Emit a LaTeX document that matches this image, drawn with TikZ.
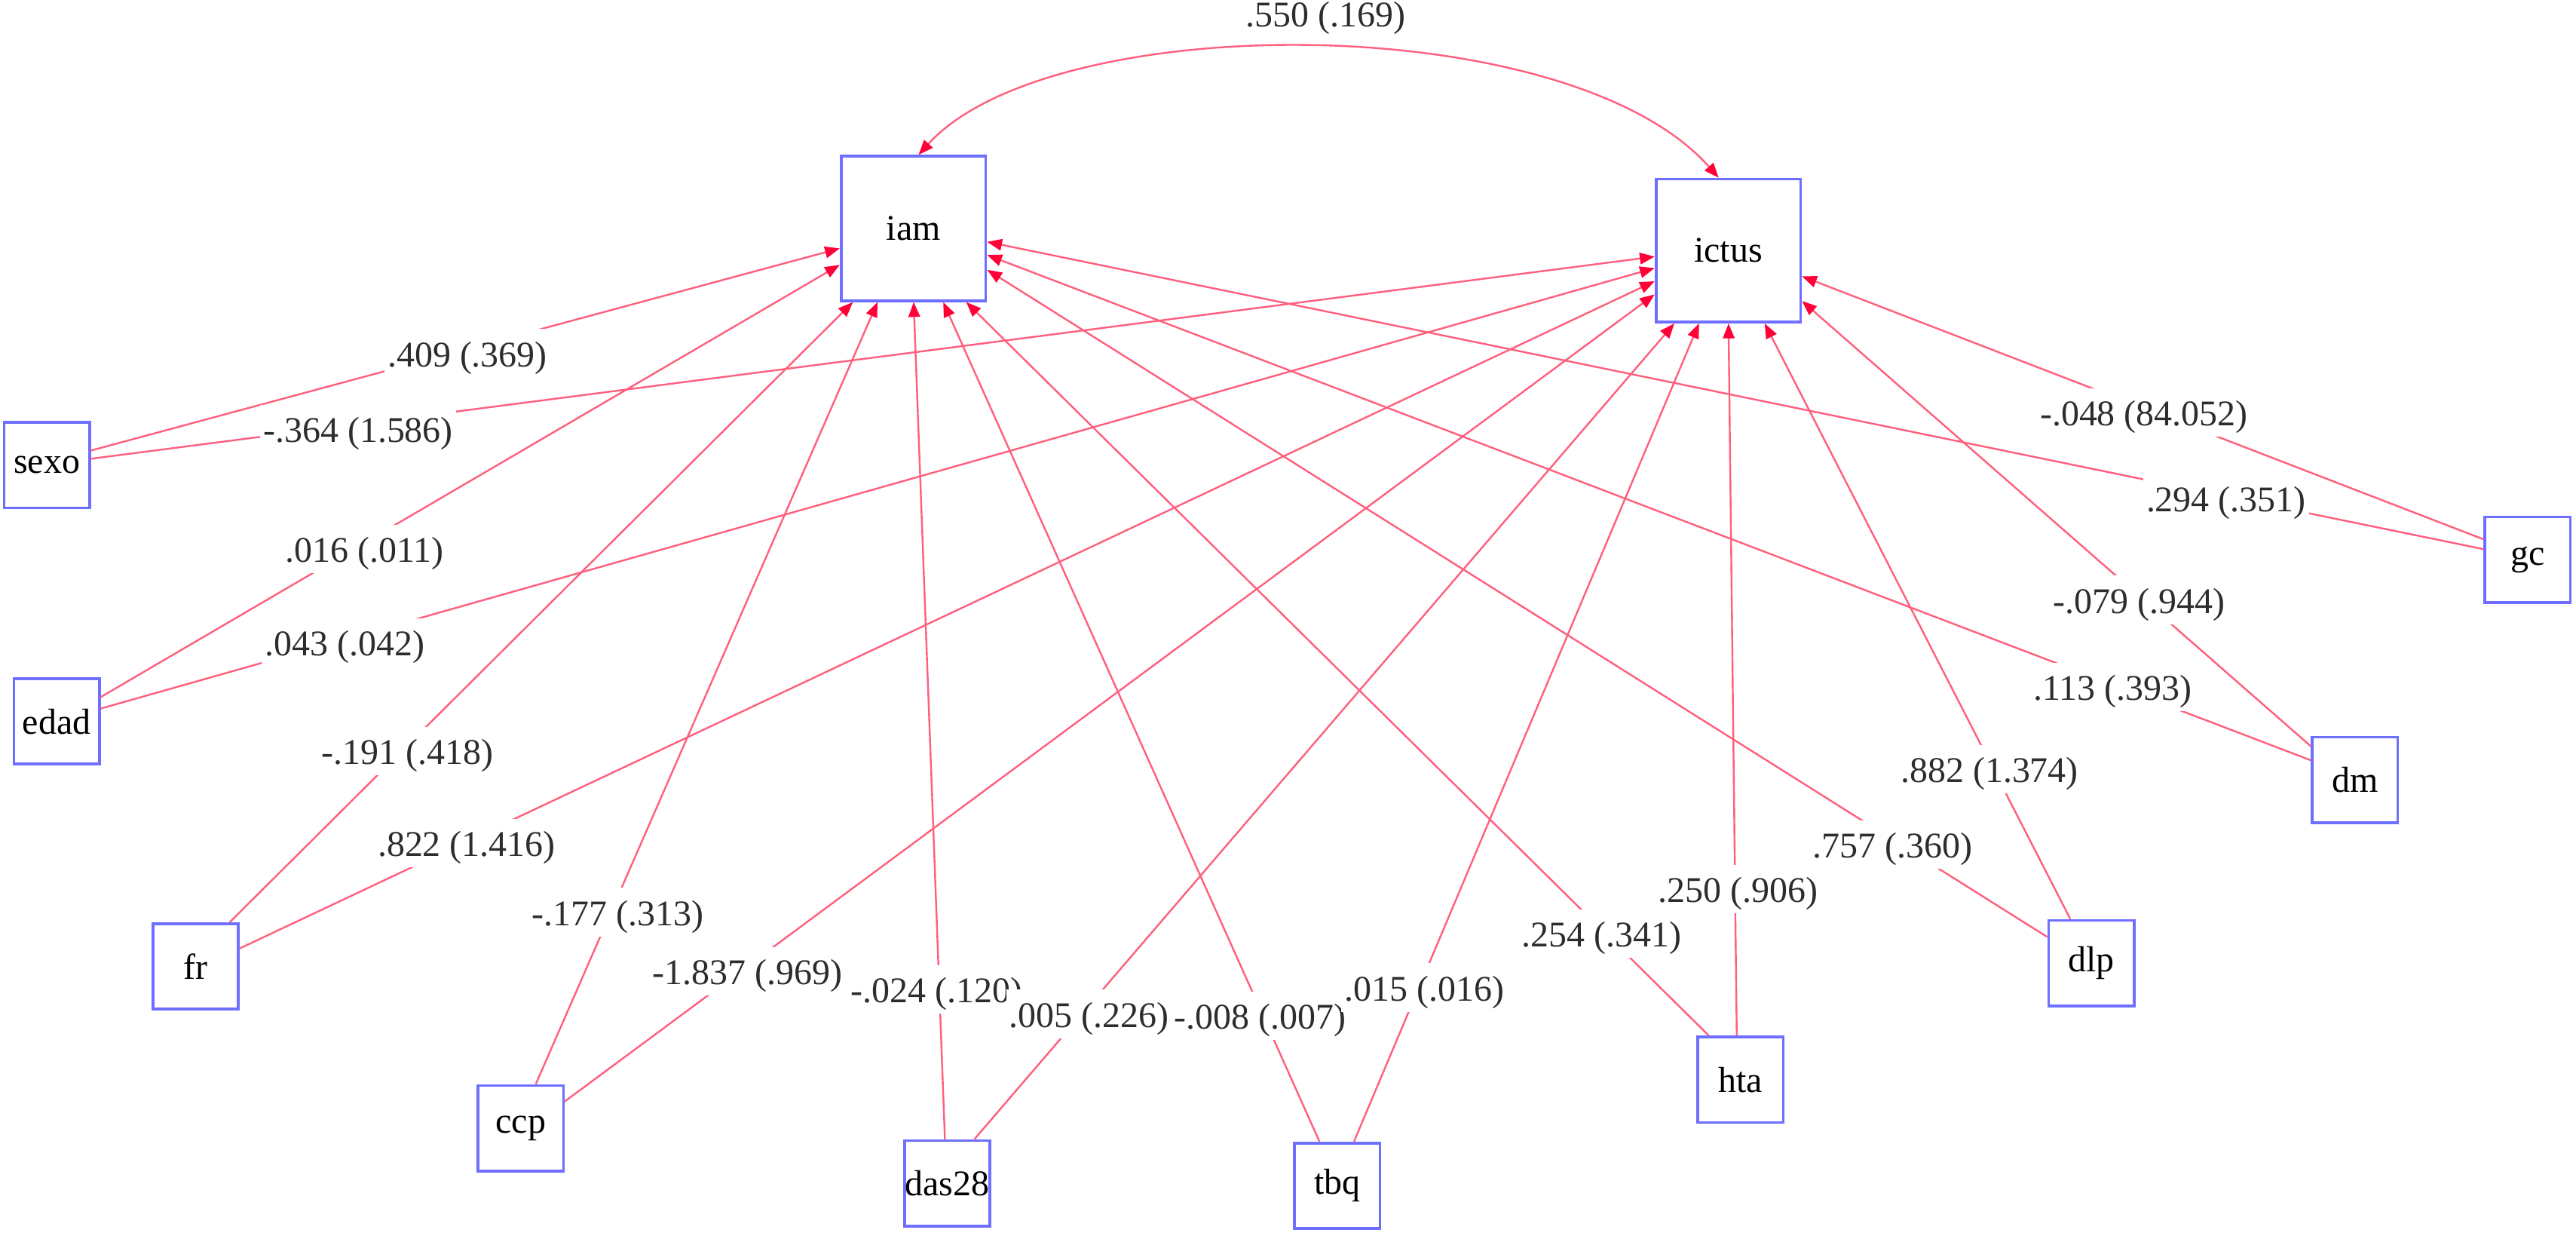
\documentclass[tikz,border=0pt]{standalone}
\usepackage{fontspec}
\setmainfont{Liberation Serif}
\usetikzlibrary{arrows.meta,calc}
\definecolor{linecol}{RGB}{255,95,125}
\definecolor{headcol}{RGB}{255,0,55}
\definecolor{boxcol}{RGB}{110,110,255}
\definecolor{txtcol}{RGB}{45,45,45}
\begin{document}
\begin{tikzpicture}[x=1pt,y=-1pt,
  box/.style={draw=boxcol, line width=1.7pt, fill=white, minimum width=52pt, minimum height=52pt, inner sep=0pt, font=\fontsize{22}{26}\selectfont, text=black},
  bigbox/.style={box, minimum width=88pt, minimum height=88pt},
  edge/.style={draw=linecol, line width=1.1pt, -{Triangle[length=9pt,width=7pt,color=headcol]}},
  lab/.style={fill=white, inner xsep=2pt, inner ysep=0pt, text height=23pt, text depth=6.6pt, yshift=3pt, font=\fontsize{22}{26}\selectfont, text=txtcol}]
\useasboundingbox (0,0) rectangle (1568,752);
% nodes
\node[bigbox] (iam) at (556,139) {iam};
\node[bigbox, minimum height=87pt] (ictus) at (1052,152.5) {ictus};
\node[box] (sexo) at (28.5,283) {sexo};
\node[box] (edad) at (34.5,439) {edad};
\node[box] (fr) at (119,588) {fr};
\node[box] (ccp) at (317,686.5) {ccp};
\node[box] (das28) at (576.5,720) {das28};
\node[box] (tbq) at (814,721.5) {tbq};
\node[box] (hta) at (1059.5,657) {hta};
\node[box] (dlp) at (1273,586) {dlp};
\node[box] (dm) at (1433.5,474.5) {dm};
\node[box] (gc) at (1538.5,340.5) {gc};
% covariance arc
\draw[draw=linecol, line width=1.1pt, {Triangle[length=9pt,width=7pt,color=headcol]}-{Triangle[length=9pt,width=7pt,color=headcol]}]
  ($(iam.north west)+(48,0)$) .. controls (640,5) and (955,5) .. ($(ictus.north west)+(39,0)$);
% edges to iam
\draw[edge] ($(sexo.north east)+(0,18)$) -- ($(iam.north west)+(0,57)$);
\draw[edge] ($(edad.north east)+(0,12)$) -- ($(iam.north west)+(0,67)$);
\draw[edge] ($(fr.north east)+(-6,0)$) -- ($(iam.south west)+(8,0)$);
\draw[edge] ($(ccp.north west)+(36,0)$) -- ($(iam.south west)+(23,0)$);
\draw[edge] ($(das28.north west)+(25.5,0)$) -- ($(iam.south west)+(45,0)$);
\draw[edge] ($(tbq.north west)+(16,0)$) -- ($(iam.south west)+(63,0)$);
\draw[edge] ($(hta.north west)+(7.5,0)$) -- ($(iam.south west)+(77,0)$);
\draw[edge] ($(dlp.north west)+(0,11)$) -- ($(iam.north east)+(0,70)$);
\draw[edge] ($(dm.north west)+(0,15)$) -- ($(iam.north east)+(0,61)$);
\draw[edge] ($(gc.north west)+(0,20.5)$) -- ($(iam.north east)+(0,53)$);
% edges to ictus
\draw[edge] ($(sexo.north east)+(0,23)$) -- ($(ictus.north west)+(0,48)$);
\draw[edge] ($(edad.north east)+(0,19)$) -- ($(ictus.north west)+(0,55)$);
\draw[edge] ($(fr.north east)+(0,16)$) -- ($(ictus.north west)+(0,63)$);
\draw[edge] ($(ccp.north east)+(0,10.5)$) -- ($(ictus.north west)+(0,71)$);
\draw[edge] ($(das28.north west)+(43.5,0)$) -- ($(ictus.south west)+(12,0)$);
\draw[edge] ($(tbq.north west)+(37,0)$) -- ($(ictus.south west)+(27,0)$);
\draw[edge] ($(hta.north west)+(24.5,0)$) -- ($(ictus.south west)+(45,0)$);
\draw[edge] ($(dlp.north west)+(14,0)$) -- ($(ictus.south west)+(67,0)$);
\draw[edge] ($(dm.north west)+(0,6.5)$) -- ($(ictus.north east)+(0,75)$);
\draw[edge] ($(gc.north west)+(0,14.5)$) -- ($(ictus.north east)+(0,60)$);
% labels
\node[lab] (l550) at (807,11) {.550 (.169)};
\node[lab] (l409) at (284.5,218) {.409 (.369)};
\node[lab] (l364) at (218,264) {-.364 (1.586)};
\node[lab] (l016) at (222,337) {.016 (.011)};
\node[lab] (l043) at (210,394) {.043 (.042)};
\node[lab] (l191) at (248,460) {-.191 (.418)};
\node[lab] (l822) at (284,516) {.822 (1.416)};
\node[lab] (l177) at (376,558) {-.177 (.313)};
\node[lab] (l1837) at (455,594) {-1.837 (.969)};
\node[lab] (l024) at (570,605) {-.024 (.120)};
\node[lab] (l005) at (663,620) {.005 (.226)};
\node[lab] (l008) at (767,621) {-.008 (.007)};
\node[lab] (l015) at (867,604) {.015 (.016)};
\node[lab] (l254) at (975,571) {.254 (.341)};
\node[lab] (l250) at (1058,544) {.250 (.906)};
\node[lab] (l757) at (1152,517) {.757 (.360)};
\node[lab] (l882) at (1211,471) {.882 (1.374)};
\node[lab] (l113) at (1286,421) {.113 (.393)};
\node[lab] (l079) at (1302,368) {-.079 (.944)};
\node[lab] (l294) at (1355,306) {.294 (.351)};
\node[lab] (l048) at (1305,254) {-.048 (84.052)};
\end{tikzpicture}
\end{document}
